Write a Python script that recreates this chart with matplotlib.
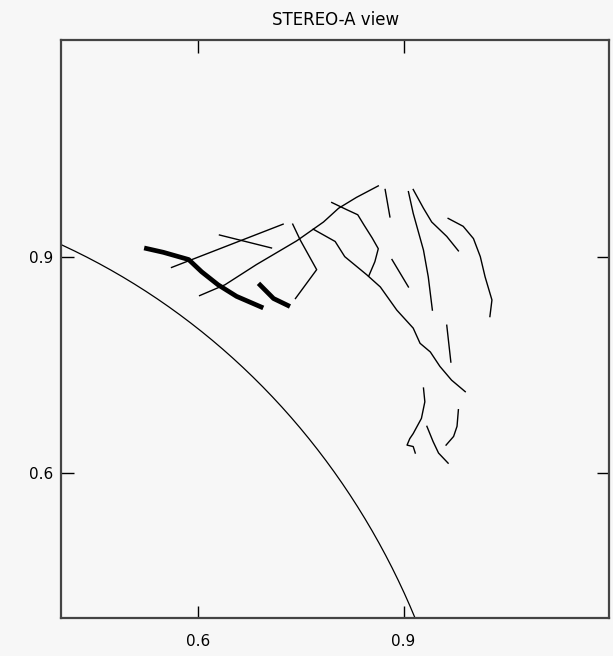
"""STEREO-A view: limbo solar (r=1) e feições traçadas."""

import matplotlib

matplotlib.use("Agg")
import matplotlib.pyplot as plt
import numpy as np

# limbo solar (círculo unitário)
LIMBO_R = 1.0

# traços finos (x, y)
TRACOS = [
    ([0.561, 0.724], [0.885, 0.945]),
    ([0.631, 0.707], [0.930, 0.912]),
    ([0.602, 0.639, 0.685, 0.744, 0.768, 0.783, 0.805, 0.831, 0.863],
     [0.846, 0.861, 0.889, 0.922, 0.938, 0.948, 0.967, 0.982, 0.998]),
    ([0.738, 0.749, 0.773, 0.742], [0.945, 0.923, 0.882, 0.842]),
    ([0.768, 0.800, 0.814, 0.846, 0.866, 0.890, 0.914, 0.924, 0.939, 0.953, 0.970, 0.990],
     [0.938, 0.921, 0.900, 0.875, 0.858, 0.826, 0.801, 0.780, 0.768, 0.748, 0.729, 0.713]),
    ([0.795, 0.817, 0.833, 0.842, 0.854, 0.863, 0.858, 0.849],
     [0.975, 0.965, 0.958, 0.944, 0.926, 0.911, 0.893, 0.873]),
    ([0.873, 0.880], [0.993, 0.955]),
    ([0.883, 0.907], [0.896, 0.858]),
    ([0.907, 0.914, 0.929, 0.936, 0.942], [0.990, 0.960, 0.909, 0.872, 0.826]),
    ([0.914, 0.929, 0.941, 0.963, 0.980], [0.993, 0.967, 0.948, 0.928, 0.908]),
    ([0.965, 0.987, 1.002, 1.012, 1.019, 1.029, 1.026],
     [0.953, 0.942, 0.925, 0.900, 0.872, 0.840, 0.817]),
    ([0.963, 0.969], [0.805, 0.754]),
    ([0.929, 0.931, 0.926, 0.914, 0.909, 0.905, 0.914, 0.917],
     [0.718, 0.699, 0.676, 0.655, 0.648, 0.639, 0.637, 0.628]),
    ([0.980, 0.978, 0.973, 0.962], [0.688, 0.665, 0.651, 0.639]),
    ([0.934, 0.943, 0.951, 0.965], [0.665, 0.644, 0.628, 0.614]),
]

# traços grossos
GROSSOS = [
    ([0.521, 0.549, 0.586, 0.605, 0.629, 0.656, 0.695],
     [0.912, 0.906, 0.896, 0.879, 0.861, 0.845, 0.829]),
    ([0.688, 0.710, 0.734], [0.863, 0.842, 0.831]),
]

TICKS = [0.6, 0.9]
TICK_LABELS = ["0.6", "0.9"]

fig = plt.figure(figsize=(6.13, 6.56), dpi=100, facecolor="#f7f7f7")
ax = fig.add_axes([0.100, 0.0584, 0.8935, 0.8806], facecolor="#f7f7f7")

theta = np.linspace(0, np.pi / 2, 400)
ax.plot(LIMBO_R * np.cos(theta), LIMBO_R * np.sin(theta), color="black", lw=0.9)

for xs, ys in TRACOS:
    ax.plot(xs, ys, color="black", lw=1.0)
for xs, ys in GROSSOS:
    ax.plot(xs, ys, color="black", lw=3.4, solid_capstyle="butt")

ax.set_xlim(0.4, 1.2)
ax.set_ylim(0.4, 1.2)
ax.set_xticks(TICKS)
ax.set_xticklabels(TICK_LABELS)
ax.set_yticks(TICKS)
ax.set_yticklabels(TICK_LABELS)
ax.tick_params(axis="x", direction="in", length=9, width=1, top=True, pad=12,
               labelsize=11, color="black")
ax.tick_params(axis="y", direction="in", length=9, width=1, right=True, pad=6,
               labelsize=11, color="black")
for s in ax.spines.values():
    s.set_color("#444444")
    s.set_linewidth(1.6)

ax.set_title("STEREO-A view", fontsize=12, pad=11)

fig.savefig("out.png", dpi=100, facecolor=fig.get_facecolor())
